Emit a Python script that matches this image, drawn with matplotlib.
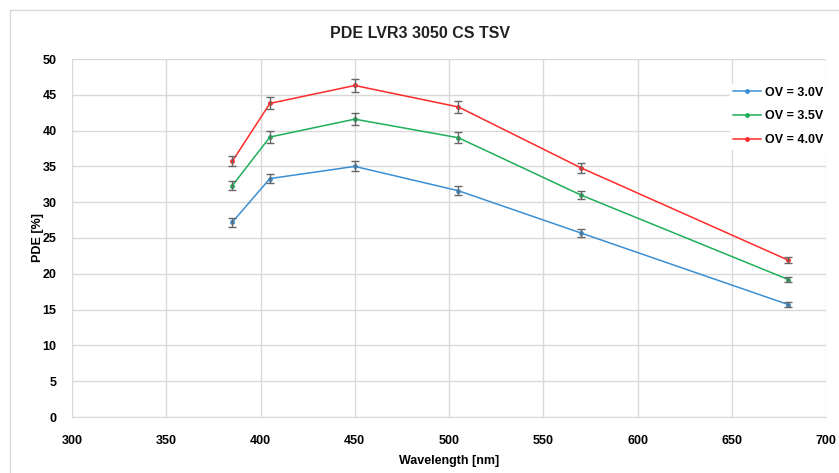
import matplotlib
matplotlib.use('Agg')
import matplotlib.pyplot as plt
from matplotlib.patches import Rectangle

plt.rcParams['font.family'] = ['Liberation Sans', 'DejaVu Sans']

# data
wavelength = [385, 405, 450, 505, 570, 680]
pde_30 = [27.2, 33.3, 35.0, 31.6, 25.7, 15.7]
pde_35 = [32.3, 39.1, 41.6, 39.0, 31.0, 19.2]
pde_40 = [35.7, 43.8, 46.3, 43.3, 34.8, 21.9]
err_30 = [0.6, 0.65, 0.7, 0.65, 0.5, 0.35]
err_35 = [0.65, 0.8, 0.85, 0.8, 0.6, 0.4]
err_40 = [0.7, 0.85, 0.95, 0.85, 0.7, 0.45]
labels = ['OV = 3.0V', 'OV = 3.5V', 'OV = 4.0V']
colors = ['#3a8fd4', '#1fae5a', '#ff2a2a']
x_ticks = list(range(300, 701, 50))
y_ticks = list(range(0, 51, 5))

fig = plt.figure(figsize=(8.39, 4.73), dpi=100)
# outer chart frame
fig.patches.append(Rectangle((10 / 839, -0.01), 1.0, 1 - 10 / 473 + 0.01,
                             transform=fig.transFigure, fill=False,
                             edgecolor='#d9d9d9', linewidth=1.0))
ax = fig.add_axes([72 / 839, 1 - 417 / 473, (826 - 72) / 839, (417 - 59) / 473])

for y, e, lab, c in zip([pde_30, pde_35, pde_40], [err_30, err_35, err_40], labels, colors):
    ax.plot(wavelength, y, color=c, linewidth=1.1, marker='o', markersize=2.5, label=lab, zorder=3)
    ax.errorbar(wavelength, y, yerr=e, fmt='none', ecolor='#666666', elinewidth=1.0,
                capsize=3, capthick=1.0, zorder=4)

ax.set_xlim(300, 700)
ax.set_ylim(0, 50)
ax.set_xticks(x_ticks)
ax.set_yticks(y_ticks)
ax.grid(True, color='#d9d9d9', linewidth=1.0)
ax.set_axisbelow(True)
for s in ['top', 'right', 'left']:
    ax.spines[s].set_visible(False)
ax.spines['bottom'].set_color('#d9d9d9')
ax.tick_params(axis='x', length=0, labelsize=9, pad=13)
ax.tick_params(axis='y', length=0, labelsize=9, pad=11)
for t in ax.get_xticklabels() + ax.get_yticklabels():
    t.set_fontweight('bold')

ax.set_xlabel('Wavelength [nm]', fontsize=9, fontweight='bold', labelpad=6)
ax.set_ylabel('PDE [%]', fontsize=9, fontweight='bold')
ax.yaxis.set_label_coords(-0.037, 0.5)
fig.text(0.5, 1 - 33 / 473, 'PDE LVR3 3050 CS TSV', ha='center', va='center',
         fontsize=11.5, fontweight='bold', color='#222222')

leg = ax.legend(loc='upper right', bbox_to_anchor=(1.0, 0.93), frameon=True, fancybox=False,
                edgecolor='white', framealpha=1.0, fontsize=9, handlelength=2.3,
                handletextpad=0.3, labelspacing=0.95, borderpad=0.2, borderaxespad=0)
for t in leg.get_texts():
    t.set_fontweight('bold')

fig.savefig('out.png', dpi=100)
